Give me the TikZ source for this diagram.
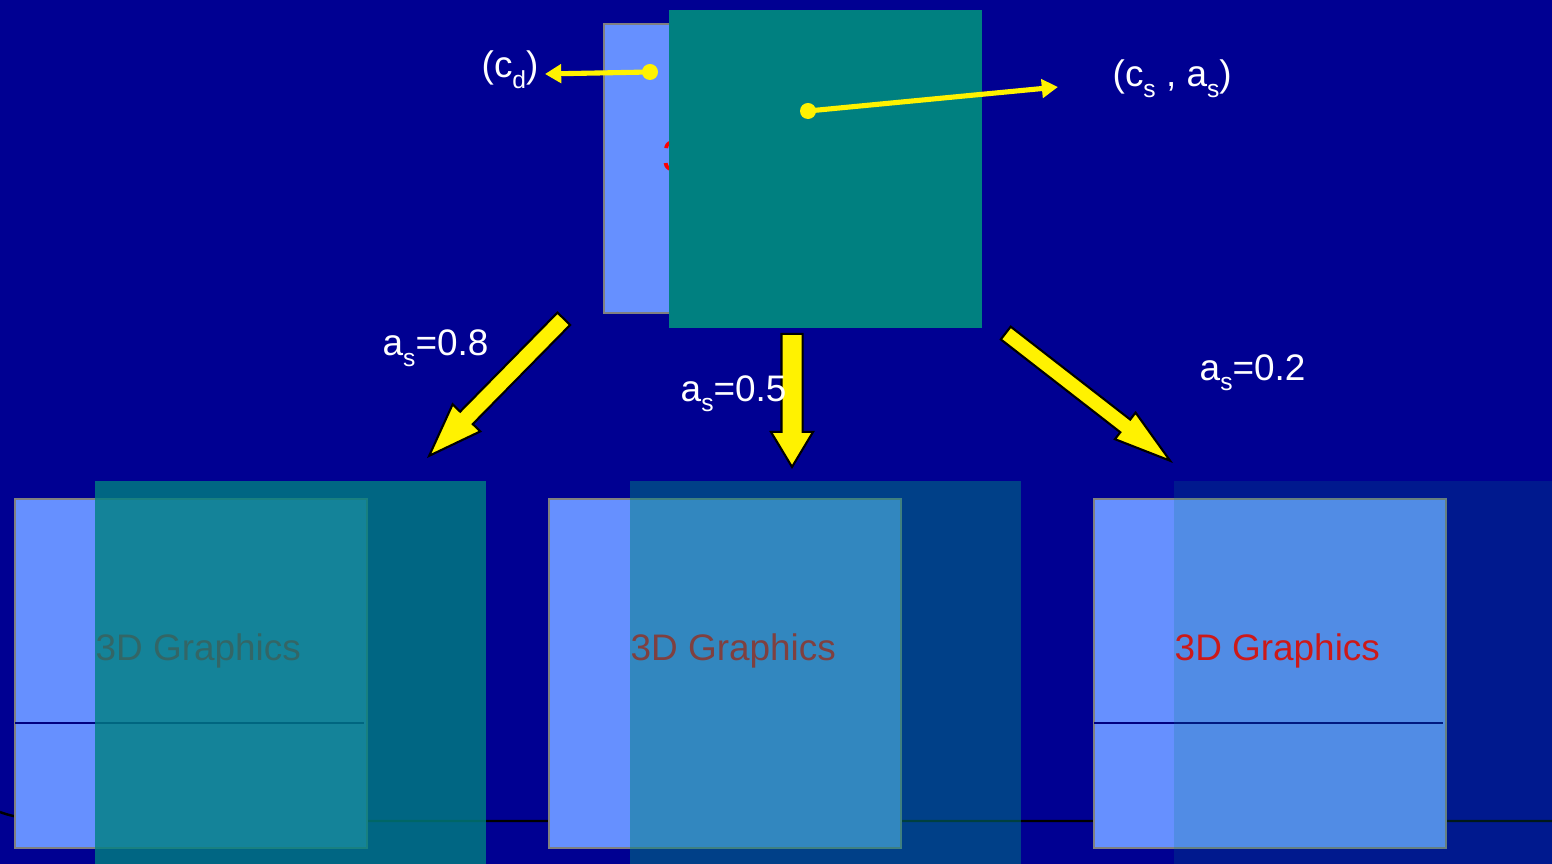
\documentclass[tikz,border=0pt]{standalone}
\usepackage{fontspec}
\setmainfont{Liberation Sans}
\usepackage{tikz}
\usetikzlibrary{positioning, arrows.meta, shapes.arrows}
\definecolor{Night}{HTML}{000092}
\definecolor{Sky}{HTML}{6690FF}
\definecolor{Teal}{HTML}{008080}
\definecolor{Frame}{HTML}{808080}
\definecolor{Seam}{HTML}{000080}
\newcommand{\lowsub}[1]{\raisebox{-0.28em}{\fontsize{7}{8}\selectfont #1}}

\begin{document}
\begin{tikzpicture}[
      x=0.01cm, y=-0.01cm,
      font=\fontsize{10.5}{12}\selectfont,
      lbl/.style={text=white, inner sep=0pt, anchor=base west},
      sheet/.style={draw=Frame, line width=0.5pt, fill=Sky, anchor=north west, inner sep=0pt,
        minimum width=3.52cm, minimum height=3.49cm},
      film/.style={fill=Teal, anchor=north west, inner sep=0pt},
      gtext/.style={text=red, anchor=base west, inner sep=0pt},
      hub/.style={circle, fill=yellow, inner sep=0pt, minimum size=0.16cm},
      ray/.style={-{Triangle[length=4.6pt,width=5.2pt]}, yellow, line width=1.45pt},
      fall/.style={single arrow, draw=black, line width=0.6pt, fill=yellow, inner xsep=0pt,
        single arrow head indent=0pt, anchor=tip},
      seam/.style={Seam, line width=0.35pt}
    ]
      \useasboundingbox (0,0) rectangle (1552,864);
      \fill[Night] (0,0) rectangle (1552,864);
      \draw[black, line width=0.7pt] (0,812) .. controls (15,818) and (40,821) .. (80,821) -- (1552,821);

      \node[sheet, minimum width=2.91cm, minimum height=2.89cm] (topsheet) at (603,23) {};
      \node[gtext, font=\fontsize{12.6}{14}\selectfont] (toptext) at (662,172) {3D Graphics};
      \node[film, minimum width=3.13cm, minimum height=3.18cm] (topfilm) at (668,9) {};

      \node[hub] (cd) at (650,72) {};
      \node[hub] (cs) at (808,111) {};
      \coordinate (cdend) at (545,74);
      \coordinate (csend) at (1058,87);
      \draw[ray] (cd.center) -- (cdend);
      \draw[ray] (cs.center) -- (csend);
      \node[lbl] (cdlabel) at (481,78) {(c\lowsub{d})};
      \node[lbl] (cslabel) at (1112,87) {(c\lowsub{s} , a\lowsub{s})};

      \foreach \n/\x/\fx/\a in {1/14/94/0.8, 2/548/629/0.5, 3/1093/1173/0.2}{
        \node[sheet] (sheet\n) at (\x,498) {};
      }
      \draw[seam] (15,723) -- (364,723);
      \draw[seam] (1094,723) -- (1443,723);
      \foreach \n/\x/\fx/\a in {1/14/94/0.8, 2/548/629/0.5, 3/1173/1173/0.2}{
        \node[gtext] (text\n) at (\fx+1,660) {3D Graphics};
        \node[film, opacity=\a, minimum width=3.91cm, minimum height=3.9cm] (film\n) at (\fx,480) {};
      }

      \node[fall, minimum height=1.92cm, inner ysep=0.078cm, single arrow head extend=0.105cm,
        single arrow tip angle=40, rotate=225.5] (fall1) at (427,458) {};
      \node[fall, minimum height=1.33cm, inner ysep=0.095cm, single arrow head extend=0.105cm,
        single arrow tip angle=62, rotate=270] (fall2) at (792,469) {};
      \node[fall, minimum height=2.08cm, inner ysep=0.07cm, single arrow head extend=0.0875cm,
        single arrow tip angle=33, rotate=-37.85] (fall3) at (1173,463) {};

      \node[lbl] (alpha1) at (382,356) {a\lowsub{s}=0.8};
      \node[lbl] (alpha2) at (680,401) {a\lowsub{s}=0.5};
      \node[lbl] (alpha3) at (1199,380) {a\lowsub{s}=0.2};
    \end{tikzpicture}
\end{document}
